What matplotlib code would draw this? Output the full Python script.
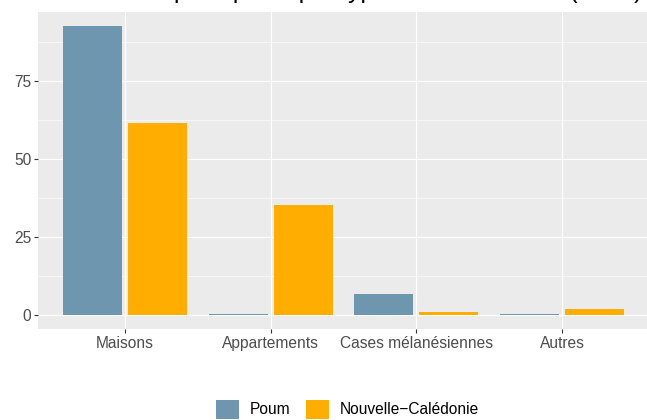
import numpy as np
import matplotlib
matplotlib.use("Agg")
import matplotlib.pyplot as plt
from matplotlib.patches import Patch

plt.rcParams['font.family'] = ['Liberation Sans', 'DejaVu Sans']

# ---- data ----
categories = ["Maisons", "Appartements", "Cases mélanésiennes", "Autres"]
poum = [92.5, 0.3, 6.8, 0.4]
nouvelle_caledonie = [61.6, 35.3, 1.0, 2.0]
series_names = ["Poum", "Nouvelle\u2212Calédonie"]
yticks = [0, 25, 50, 75]
title = "Résidences principales par type de construction (en %)"

BLUE = "#6E97AF"
ORANGE = "#FFAD00"
PANEL = "#EBEBEB"

W, H = 647, 420
fig = plt.figure(figsize=(W / 100, H / 100), dpi=100)

# panel placement in pixels (panel is cropped on the right like the original)
left_px, right_px = 37.6, 649.4
top_px, bottom_px = 12.0, 329.4
ax = fig.add_axes([left_px / W, (H - bottom_px) / H,
                   (right_px - left_px) / W, (bottom_px - top_px) / H])
ax.set_facecolor(PANEL)

x = np.arange(1, len(categories) + 1)
off = 0.2225
bw = 0.405
ax.bar(x - off, poum, width=bw, color=BLUE, zorder=3)
ax.bar(x + off, nouvelle_caledonie, width=bw, color=ORANGE, zorder=3)

ymax = max(max(poum), max(nouvelle_caledonie))
ax.set_xlim(0.4, len(categories) + 0.6)
ax.set_ylim(-0.05 * ymax, 1.05 * ymax)

# grid like ggplot theme_gray
for yv in yticks:
    ax.axhline(yv, color="white", lw=0.8, zorder=1)
for yv in np.array(yticks) + 12.5:
    ax.axhline(yv, color="white", lw=0.4, zorder=1)
for xv in x:
    ax.axvline(xv, color="white", lw=0.8, zorder=1)

for s in ax.spines.values():
    s.set_visible(False)

ax.set_xticks(x)
ax.set_xticklabels(categories)
ax.set_yticks(yticks)
ax.tick_params(axis="both", length=2.6, width=0.8, color="#333333",
               labelcolor="#4D4D4D", labelsize=11.2, pad=2.0)

# title, mostly cut off by the top edge (as in the original)
fig.text(left_px / W, 1 + 2 / H, title, fontsize=17.8, ha="left",
         va="baseline", color="black")

handles = [Patch(facecolor=BLUE), Patch(facecolor=ORANGE)]
fig.legend(handles, series_names, loc="upper left",
           bbox_to_anchor=(216 / W, 1 - 400 / H), ncol=2, frameon=False,
           fontsize=11.2, handlelength=1.47, handleheight=1.47,
           handletextpad=0.7, columnspacing=1.0, borderpad=0,
           borderaxespad=0)

fig.savefig("out.png", dpi=100)
